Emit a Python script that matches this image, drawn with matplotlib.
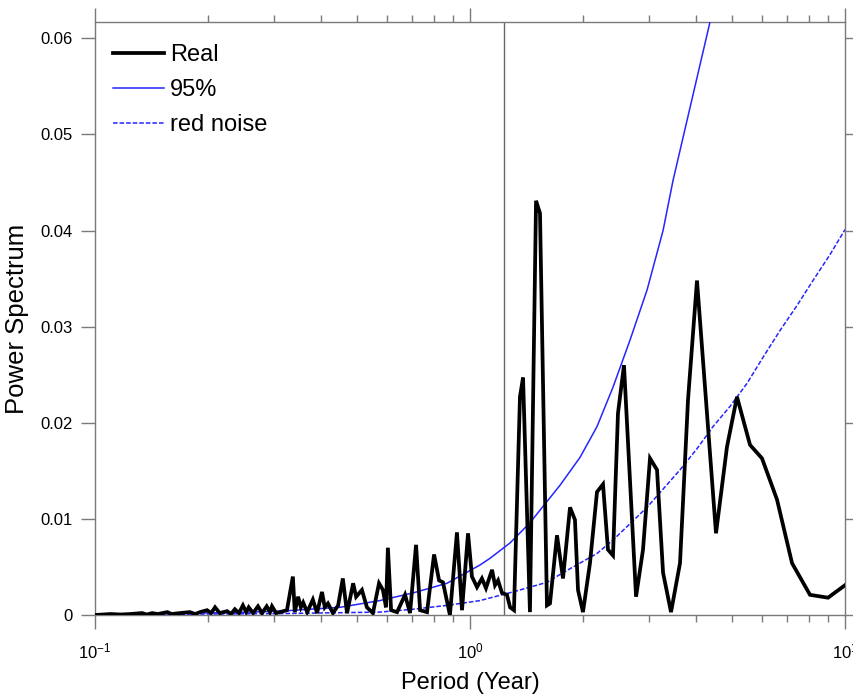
import matplotlib
matplotlib.use("Agg")
import matplotlib.pyplot as plt
from matplotlib.ticker import FixedLocator, FixedFormatter, LogLocator, NullFormatter

plt.rcParams['font.family'] = ['Liberation Sans', 'DejaVu Sans']

# ---- data ----
real_period = [0.100, 0.110, 0.117, 0.124, 0.1335, 0.1376, 0.142, 0.147, 0.156, 0.160,
               0.1685, 0.179, 0.185, 0.1905, 0.199, 0.204, 0.209, 0.215, 0.225, 0.2305,
               0.236, 0.242, 0.248, 0.253, 0.257, 0.264, 0.272, 0.279, 0.287, 0.293,
               0.2965, 0.304, 0.311, 0.325, 0.337, 0.341, 0.348, 0.354, 0.359, 0.368,
               0.381, 0.391, 0.403, 0.410, 0.418, 0.431, 0.445, 0.458, 0.470, 0.488,
               0.497, 0.515, 0.531, 0.551, 0.572, 0.586, 0.597, 0.604, 0.616, 0.639,
               0.671, 0.692, 0.718, 0.736, 0.768, 0.802, 0.827, 0.847, 0.884, 0.923,
               0.952, 0.988, 1.012, 1.044, 1.076, 1.103, 1.145, 1.166, 1.188, 1.217,
               1.255, 1.279, 1.310, 1.359, 1.385, 1.445, 1.500, 1.537, 1.604, 1.634,
               1.706, 1.770, 1.848, 1.905, 1.941, 2.001, 2.089, 2.181, 2.263, 2.333,
               2.406, 2.481, 2.574, 2.772, 2.893, 3.020, 3.153, 3.272, 3.436, 3.631,
               3.814, 4.030, 4.529, 4.845, 5.152, 5.581, 6.007, 6.588, 7.223, 8.066,
               9.010, 10.0]
real_power = [0.0000, 0.0001, 0.00005, 0.0001, 0.0002, 0.00005, 0.0002, 0.0001, 0.0003, 0.0001,
              0.0002, 0.0003, 0.0001, 0.0003, 0.0005, 0.0002, 0.0008, 0.0002, 0.0004, 0.0001,
              0.0006, 0.0002, 0.0010, 0.0003, 0.0008, 0.0002, 0.0009, 0.0002, 0.0009, 0.0003,
              0.0009, 0.0002, 0.0003, 0.0005, 0.0040, 0.0003, 0.0019, 0.0008, 0.0013, 0.0003,
              0.0016, 0.0002, 0.0024, 0.0008, 0.0012, 0.0002, 0.0010, 0.0038, 0.0002, 0.0033,
              0.0019, 0.0026, 0.0008, 0.0002, 0.0033, 0.0026, 0.0008, 0.0070, 0.0005, 0.0003,
              0.0021, 0.0002, 0.0073, 0.0005, 0.0003, 0.0063, 0.0036, 0.0034, 0.0000, 0.0086,
              0.0005, 0.0085, 0.0040, 0.0029, 0.0038, 0.0028, 0.0047, 0.0031, 0.0036, 0.0023,
              0.0021, 0.0008, 0.0005, 0.0227, 0.0247, 0.0003, 0.0431, 0.0418, 0.0010, 0.0012,
              0.0083, 0.0038, 0.0112, 0.0099, 0.0026, 0.0003, 0.0054, 0.0128, 0.0136, 0.0068,
              0.0062, 0.0210, 0.0260, 0.0019, 0.0068, 0.0163, 0.0151, 0.0044, 0.0003, 0.0054,
              0.0224, 0.0348, 0.0085, 0.0175, 0.0227, 0.0177, 0.0163, 0.0120, 0.0054, 0.0021,
              0.0018, 0.0031]

sig_period = [0.100, 0.140, 0.1905, 0.259, 0.311, 0.450, 0.575, 0.705, 0.868, 1.063,
              1.131, 1.279, 1.445, 1.738, 1.965, 2.181, 2.406, 2.671, 2.965, 3.272,
              3.478, 4.365, 4.642]
sig_power = [0.00003, 0.0001, 0.0002, 0.0003, 0.0004, 0.0008, 0.0015, 0.0023, 0.0033, 0.0052,
             0.0059, 0.0075, 0.0096, 0.0135, 0.0164, 0.0196, 0.0237, 0.0286, 0.0338, 0.0400,
             0.0452, 0.0617, 0.0665]

red_period = [0.100, 0.1905, 0.311, 0.575, 0.705, 0.868, 1.063, 1.302, 1.604, 1.770,
              1.965, 2.181, 2.406, 2.671, 2.965, 3.272, 3.631, 4.030, 4.446, 4.935,
              5.479, 6.043, 6.710, 7.447, 8.215, 9.120, 10.0]
red_power = [0.00001, 0.0001, 0.00015, 0.0003, 0.0006, 0.0010, 0.0015, 0.0024, 0.0034, 0.0044,
             0.0054, 0.0064, 0.0078, 0.0095, 0.0112, 0.0131, 0.0151, 0.0173, 0.0196, 0.0217,
             0.0241, 0.0268, 0.0296, 0.0322, 0.0348, 0.0375, 0.0401]

vline_period = 1.232
y_ticks = [0, 0.01, 0.02, 0.03, 0.04, 0.05, 0.06]
y_tick_labels = ['0', '0.01', '0.02', '0.03', '0.04', '0.05', '0.06']

# ---- figure ----
fig = plt.figure(figsize=(8.54, 6.95), dpi=100)
ax = fig.add_axes([95/854, 80/695, 750/854, 593/695])

blue = '#2525ff'
ax.axvline(vline_period, color='#666666', lw=1.0, zorder=1)
ax.plot(real_period, real_power, color='black', lw=2.7, label='Real', zorder=4,
        solid_joinstyle='miter')
ax.plot(sig_period, sig_power, color=blue, lw=1.1, label='95%', zorder=3)
ax.plot(red_period, red_power, color=blue, lw=1.1, ls=(0, (3, 1.3)), label='red noise', zorder=3)

ax.set_xscale('log')
ax.set_xlim(0.1, 10)
ax.set_ylim(0, 0.0617)

ax.xaxis.set_major_locator(FixedLocator([0.1, 1, 10]))
ax.xaxis.set_minor_locator(LogLocator(base=10, subs=range(2, 10)))
ax.xaxis.set_minor_formatter(NullFormatter())
ax.yaxis.set_major_locator(FixedLocator(y_ticks))
ax.yaxis.set_major_formatter(FixedFormatter(y_tick_labels))

gray = '#7a7a7a'
for s in ax.spines.values():
    s.set_color(gray)
    s.set_linewidth(1.0)
ax.tick_params(which='both', direction='out', color=gray, width=1.0,
               top=True, right=True, labelsize=12)
ax.tick_params(which='major', length=10)
ax.tick_params(which='minor', length=5)
ax.tick_params(axis='y', pad=6)
ax.tick_params(axis='x', pad=9)

ax.set_xlabel('Period (Year)', fontsize=17, labelpad=8)
ax.set_ylabel('Power Spectrum', fontsize=18.5, labelpad=8)

leg = ax.legend(loc='upper left', bbox_to_anchor=(0.024, 0.963), frameon=False,
                fontsize=17, handlelength=2.15, handletextpad=0.25, labelspacing=0.55,
                borderpad=0, borderaxespad=0)

fig.savefig('out.png', dpi=100)
